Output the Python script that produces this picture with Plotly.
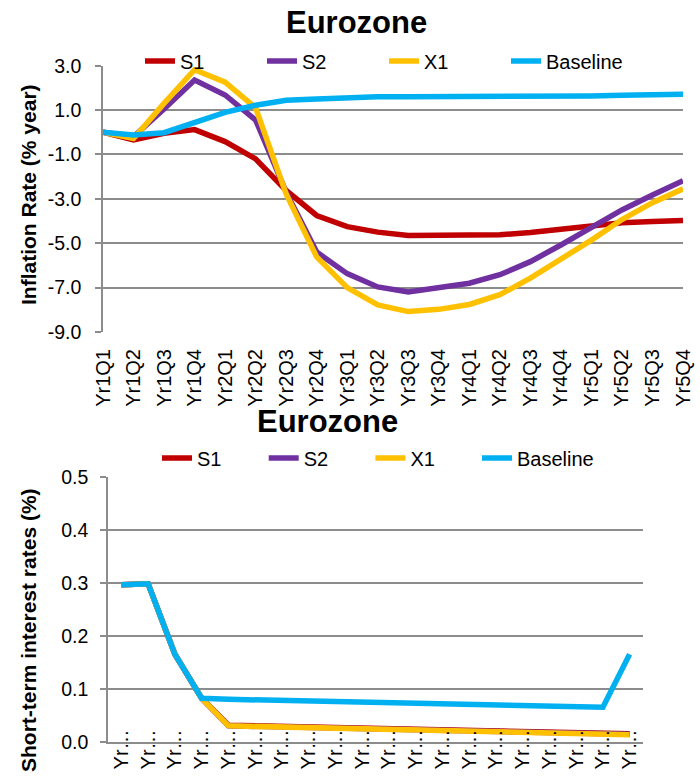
import plotly.graph_objects as go

# ---- data -------------------------------------------------------------
quarters = ["Yr1Q1", "Yr1Q2", "Yr1Q3", "Yr1Q4", "Yr2Q1", "Yr2Q2", "Yr2Q3", "Yr2Q4",
            "Yr3Q1", "Yr3Q2", "Yr3Q3", "Yr3Q4", "Yr4Q1", "Yr4Q2", "Yr4Q3", "Yr4Q4",
            "Yr5Q1", "Yr5Q2", "Yr5Q3", "Yr5Q4"]

# Inflation rate (% year)
infl_s1 = [0.0, -0.35, -0.05, 0.12, -0.42, -1.2, -2.62, -3.75, -4.25, -4.5,
           -4.65, -4.63, -4.65, -4.62, -4.52, -4.38, -4.22, -4.08, -4.02, -3.97]
infl_s2 = [0.0, -0.2, 1.05, 2.35, 1.68, 0.55, -2.7, -5.4, -6.37, -6.97,
           -7.2, -7.02, -6.8, -6.42, -5.83, -5.08, -4.26, -3.5, -2.83, -2.18]
infl_x1 = [0.0, -0.28, 1.3, 2.82, 2.26, 1.1, -2.78, -5.62, -7.0, -7.78,
           -8.08, -7.98, -7.76, -7.32, -6.57, -5.72, -4.86, -3.93, -3.17, -2.55]
infl_base = [0.0, -0.12, -0.02, 0.45, 0.9, 1.22, 1.44, 1.5, 1.56, 1.6,
             1.6, 1.6, 1.6, 1.6, 1.61, 1.62, 1.64, 1.67, 1.69, 1.71]

# Short-term interest rates (%)
rate_s1 = [0.296, 0.298, 0.165, 0.082, 0.031, 0.030, 0.029, 0.028, 0.027, 0.026,
           0.025, 0.024, 0.023, 0.022, 0.021, 0.020, 0.019, 0.018, 0.017, 0.015]
rate_s2 = [0.296, 0.298, 0.165, 0.082, 0.030, 0.029, 0.028, 0.027, 0.026, 0.025,
           0.024, 0.023, 0.022, 0.021, 0.020, 0.019, 0.018, 0.017, 0.016, 0.014]
rate_x1 = [0.296, 0.298, 0.165, 0.082, 0.030, 0.029, 0.028, 0.027, 0.026, 0.025,
           0.024, 0.023, 0.022, 0.021, 0.020, 0.019, 0.018, 0.017, 0.015, 0.013]
rate_base = [0.296, 0.298, 0.165, 0.082, 0.080, 0.079, 0.078, 0.077, 0.076, 0.075,
             0.074, 0.073, 0.072, 0.071, 0.070, 0.069, 0.068, 0.067, 0.065, 0.165]

infl_ticks = [3, 1, -1, -3, -5, -7, -9]
infl_ticktext = ["3.0", "1.0", "-1.0", "-3.0", "-5.0", "-7.0", "-9.0"]
rate_ticks = [0.0, 0.1, 0.2, 0.3, 0.4, 0.5]

series_names = ["S1", "S2", "X1", "Baseline"]
colors = ["#C00000", "#7030A0", "#FFC000", "#00B0F0"]

# ---- styling ----------------------------------------------------------
W, H = 700, 776
FONT = "Arial, 'Liberation Sans', sans-serif"
GRID = "#8C8C8C"
LW = 5.5

idx = list(range(len(quarters)))
short_labels = [q[:2] + "\u2026" for q in quarters]


def px_x(p):
    return p / W


def px_y(p):
    return 1 - p / H


# top panel geometry (pixels)
T_L, T_R, T_T, T_B = 103, 683, 65.7, 332
# bottom panel geometry (pixels)
B_L, B_R, B_T, B_B = 108, 643, 476.7, 741.7

fig = go.Figure()

for name, col, ys in zip(series_names, colors, [infl_s1, infl_s2, infl_x1, infl_base]):
    fig.add_trace(go.Scatter(x=idx, y=ys, mode="lines", name=name,
                             line=dict(color=col, width=LW),
                             xaxis="x", yaxis="y", legend="legend"))

# bottom legend: first three entries in one row, the wider "Baseline" entry on its own
bottom_legends = ["legend2", "legend2", "legend2", "legend3"]
for name, col, ys, lg in zip(series_names, colors,
                             [rate_s1, rate_s2, rate_x1, rate_base], bottom_legends):
    fig.add_trace(go.Scatter(x=idx, y=ys, mode="lines", name=name,
                             line=dict(color=col, width=LW),
                             xaxis="x2", yaxis="y2", legend=lg))

tick_font = dict(family=FONT, size=19.5, color="#000000")
xtick_font = dict(family=FONT, size=20, color="#000000")
legend_font = dict(family=FONT, size=20, color="#000000")

top_ydom = [px_y(T_B), px_y(T_T)]
zero_pos = top_ydom[0] + (0 - (-9)) / 12 * (top_ydom[1] - top_ydom[0])

axis_common = dict(automargin=False, zeroline=False)

fig.update_layout(
    width=W, height=H,
    margin=dict(l=0, r=0, t=0, b=0, autoexpand=False),
    paper_bgcolor="white", plot_bgcolor="white",
    font=dict(family=FONT, size=19, color="#000000"),
    # top panel
    xaxis=dict(domain=[px_x(T_L), px_x(T_R)], anchor="y", range=[0, 19],
               tickmode="array", tickvals=idx, ticktext=quarters, tickangle=-90,
               showgrid=False, showline=False, ticks="",
               tickfont=xtick_font, ticklabelstandoff=12, **axis_common),
    xaxis3=dict(overlaying="x", anchor="free", position=zero_pos, range=[0, 19],
                tickmode="array", tickvals=idx, showticklabels=False,
                showgrid=False, showline=True, linecolor=GRID, linewidth=1.5,
                ticks="outside", ticklen=5, tickwidth=1.5, tickcolor=GRID, **axis_common),
    yaxis=dict(domain=top_ydom, anchor="x", range=[-9, 3],
               tickmode="array", tickvals=infl_ticks, ticktext=infl_ticktext,
               showgrid=True, gridcolor=GRID, gridwidth=1.5,
               showline=True, linecolor=GRID, linewidth=1.5,
               ticks="outside", ticklen=6, tickwidth=1.5, tickcolor=GRID,
               tickfont=tick_font, ticklabelstandoff=10, **axis_common),
    # bottom panel
    xaxis2=dict(domain=[px_x(B_L), px_x(B_R)], anchor="y2", range=[-0.5, 19.5],
                tickmode="array", tickvals=idx, ticktext=short_labels, tickangle=-90,
                showgrid=False, showline=True, linecolor=GRID, linewidth=1.5,
                ticks="", tickfont=xtick_font, ticklabelstandoff=-22, **axis_common),
    xaxis4=dict(overlaying="x2", anchor="y2", range=[-0.5, 19.5],
                tickmode="array", tickvals=[i - 0.5 for i in idx] + [19.5],
                showticklabels=False, showgrid=False, showline=False,
                ticks="outside", ticklen=7, tickwidth=1.5, tickcolor=GRID, **axis_common),
    yaxis2=dict(domain=[px_y(B_B), px_y(B_T)], anchor="x2", range=[0, 0.5],
                tickmode="array", tickvals=rate_ticks, tickformat=".1f",
                showgrid=True, gridcolor=GRID, gridwidth=1.5,
                showline=True, linecolor=GRID, linewidth=1.5,
                ticks="outside", ticklen=6, tickwidth=1.5, tickcolor=GRID,
                tickfont=tick_font, ticklabelstandoff=8, **axis_common),
    legend=dict(orientation="h", x=px_x(140), y=px_y(61), xanchor="left", yanchor="middle",
                bgcolor="rgba(0,0,0,0)", font=legend_font,
                entrywidth=77, entrywidthmode="pixels", tracegroupgap=0),
    legend2=dict(orientation="h", x=px_x(157), y=px_y(458), xanchor="left", yanchor="middle",
                 bgcolor="rgba(0,0,0,0)", font=legend_font,
                 entrywidth=61.7, entrywidthmode="pixels", tracegroupgap=0),
    legend3=dict(orientation="h", x=px_x(477), y=px_y(458), xanchor="left", yanchor="middle",
                 bgcolor="rgba(0,0,0,0)", font=legend_font, tracegroupgap=0),
    annotations=[
        dict(text="<b>Eurozone</b>", x=px_x(356), y=px_y(22), xref="paper", yref="paper",
             showarrow=False, font=dict(family=FONT, size=31), xanchor="center", yanchor="middle"),
        dict(text="<b>Eurozone</b>", x=px_x(327), y=px_y(422), xref="paper", yref="paper",
             showarrow=False, font=dict(family=FONT, size=31), xanchor="center", yanchor="middle"),
        dict(text="<b>Inflation Rate (% year)</b>", x=px_x(28), y=px_y(195),
             xref="paper", yref="paper", showarrow=False, textangle=-90,
             font=dict(family=FONT, size=21), xanchor="center", yanchor="middle"),
        dict(text="<b>Short-term interest rates (%)</b>", x=px_x(28), y=px_y(630),
             xref="paper", yref="paper", showarrow=False, textangle=-90,
             font=dict(family=FONT, size=21), xanchor="center", yanchor="middle"),
    ],
)

fig.write_html("out.html")
